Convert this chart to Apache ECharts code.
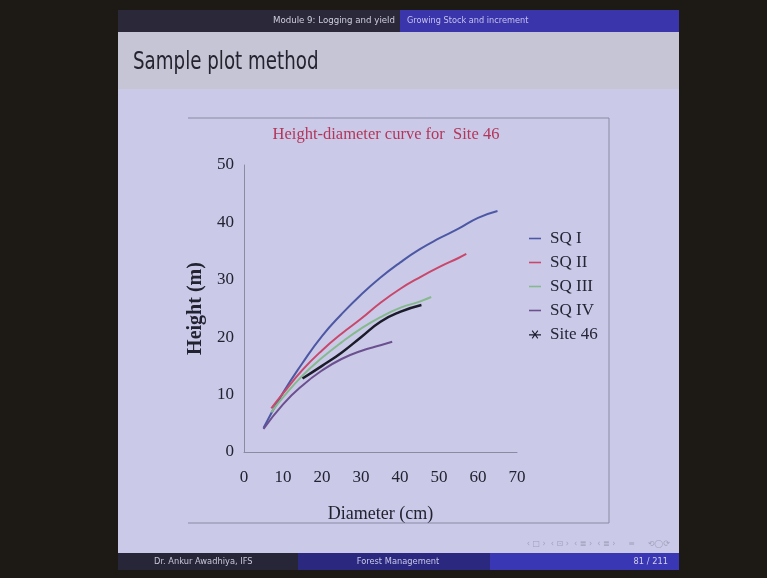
<!DOCTYPE html>
<html>
<head>
<meta charset="utf-8">
<script src="https://cdn.jsdelivr.net/npm/echarts@6/dist/echarts.min.js"></script>
<style>
html,body{margin:0;padding:0;background:#1d1915;}
#c{width:767px;height:578px;}
</style>
</head>
<body>
<div id="c"></div>
<script>
// ---- data ----
const sq1D = [5, 10, 15, 20, 25, 30, 35, 40, 45, 50, 55, 60, 65];
const sq1H = [4.2, 10.3, 15.5, 20.2, 24.0, 27.4, 30.4, 33.0, 35.3, 37.2, 38.9, 40.8, 42.0];
const sq2D = [7, 10, 15, 20, 25, 30, 35, 40, 45, 50, 55, 57];
const sq2H = [7.6, 10.2, 14.3, 17.7, 20.6, 23.2, 26.0, 28.4, 30.4, 32.2, 33.8, 34.5];
const sq3D = [7, 10, 15, 20, 25, 30, 35, 40, 45, 48];
const sq3H = [6.9, 9.5, 13.3, 16.4, 19.1, 21.5, 23.5, 25.1, 26.2, 27.0];
const sq4D = [5, 10, 15, 20, 25, 30, 35, 38];
const sq4H = [4.0, 8.3, 11.6, 14.2, 16.2, 17.6, 18.6, 19.2];
const siteD = [15, 20, 25, 30, 35, 40, 45.5];
const siteH = [12.8, 15.0, 17.3, 20.0, 22.7, 24.4, 25.6];
const seriesNames = ['SQ I', 'SQ II', 'SQ III', 'SQ IV', 'Site 46'];
const xTicks = [0, 10, 20, 30, 40, 50, 60, 70];
const yTicks = [0, 10, 20, 30, 40, 50];

const pairs = (d, h) => d.map((v, i) => [v, h[i]]);
const colors = ['#4d58a4', '#c9476a', '#86b98e', '#6b4f8e', '#1b1b2b'];
const dataSets = [pairs(sq1D, sq1H), pairs(sq2D, sq2H), pairs(sq3D, sq3H), pairs(sq4D, sq4H), pairs(siteD, siteH)];

const serif = 'Liberation Serif';
const sans = 'DejaVu Sans';

const chart = echarts.init(document.getElementById('c'), null, {renderer: 'canvas'});
const starIcon = 'path://M0,4.2h14v1.6h-14z M3.2,0.6L4.2,-0.4L10.8,8.6L9.8,9.6z M9.8,-0.4L10.8,0.6L4.2,9.6L3.2,8.6z';

function txt(x, y, s, size, color, align, sx) {
  return {type: 'text', z: 5, x: x, y: y, scaleX: sx || 1,
    style: {x: 0, y: 0, text: s, fill: color, font: size + 'px "' + sans + '"', textAlign: align, textVerticalAlign: 'middle'}};
}

chart.setOption({
  backgroundColor: '#1d1915',
  animation: false,
  graphic: [
    // slide body
    {type: 'rect', z: -10, shape: {x: 118, y: 10, width: 561, height: 560}, style: {fill: '#cacae8'}},
    // title band
    {type: 'rect', z: -9, shape: {x: 118, y: 32, width: 561, height: 57}, style: {fill: '#c5c5d6'}},
    // header bar
    {type: 'rect', z: -8, shape: {x: 118, y: 10, width: 282, height: 22}, style: {fill: '#2a2839'}},
    {type: 'rect', z: -8, shape: {x: 400, y: 10, width: 279, height: 22}, style: {fill: '#3a35aa'}},
    txt(395, 21, 'Module 9: Logging and yield', 9, '#cfcfe0', 'right', 0.96),
    txt(407, 21, 'Growing Stock and increment', 9, '#c4c2f0', 'left', 0.91),
    // slide title
    txt(133, 62, 'Sample plot method', 25, '#25232f', 'left', 0.73),
    // chart frame (top, right, bottom)
    {type: 'polyline', z: -5, shape: {points: [[188, 118], [609, 118], [609, 523], [188, 523]]}, style: {fill: null, stroke: '#8a8aa4', lineWidth: 1}},
    // nav symbols
    txt(670, 544, '‹ □ ›  ‹ ⊡ ›  ‹ ≣ ›  ‹ ≣ ›     ≡     ⟲◯⟳', 8, '#a0a0bc', 'right', 1),
    // footer bar
    {type: 'rect', z: -8, shape: {x: 118, y: 553, width: 180, height: 17}, style: {fill: '#272538'}},
    {type: 'rect', z: -8, shape: {x: 298, y: 553, width: 192, height: 17}, style: {fill: '#2b2880'}},
    {type: 'rect', z: -8, shape: {x: 490, y: 553, width: 189, height: 17}, style: {fill: '#3a37b4'}},
    txt(154, 562, 'Dr. Ankur Awadhiya, IFS', 9, '#c8c8d8', 'left', 0.92),
    txt(398, 562, 'Forest Management', 9, '#c8c8e8', 'center', 0.92),
    txt(668, 562, '81 / 211', 9, '#d0d0f0', 'right', 0.92)
  ],
  title: {
    text: 'Height-diameter curve for  Site 46',
    left: 381, top: 121, textAlign: 'center',
    textStyle: {fontFamily: serif, fontSize: 16.5, fontWeight: 'normal', color: '#b4355a'}
  },
  legend: {
    orient: 'vertical', left: 524, top: 225, itemGap: 7,
    itemWidth: 12, itemHeight: 10,
    data: seriesNames.map((n, i) => ({name: n, icon: i === 4 ? starIcon : 'path://M0,4.2h12v1.6h-12z'})),
    textStyle: {fontFamily: serif, fontSize: 17, color: '#252535', padding: [0, 0, 0, 4]}
  },
  grid: {left: 244, right: 250, top: 165, bottom: 126},
  xAxis: {
    type: 'value', min: xTicks[0], max: xTicks[xTicks.length - 1], interval: 10,
    name: 'Diameter (cm)', nameLocation: 'middle', nameGap: 53,
    nameTextStyle: {fontFamily: serif, fontSize: 18, color: '#222230'},
    axisLine: {show: true, lineStyle: {color: '#8a8aa0', width: 1}},
    axisTick: {show: false}, splitLine: {show: false},
    axisLabel: {margin: 17, fontFamily: serif, fontSize: 17, color: '#222230'}
  },
  yAxis: {
    type: 'value', min: yTicks[0], max: yTicks[yTicks.length - 1], interval: 10,
    name: 'Height (m)', nameLocation: 'middle', nameGap: 38, nameRotate: 90,
    nameTextStyle: {fontFamily: serif, fontSize: 20, fontWeight: 'bold', color: '#222230'},
    axisLine: {show: true, lineStyle: {color: '#8a8aa0', width: 1}},
    axisTick: {show: false}, splitLine: {show: false},
    axisLabel: {margin: 10, fontFamily: serif, fontSize: 17, color: '#222230'}
  },
  series: seriesNames.map((n, i) => ({
    name: n, type: 'line', smooth: true, showSymbol: false, symbol: 'none',
    data: dataSets[i],
    lineStyle: {color: colors[i], width: i === 4 ? 2.5 : 2},
    itemStyle: {color: colors[i]},
    z: i === 4 ? 3 : 2
  }))
});
</script>
</body>
</html>
